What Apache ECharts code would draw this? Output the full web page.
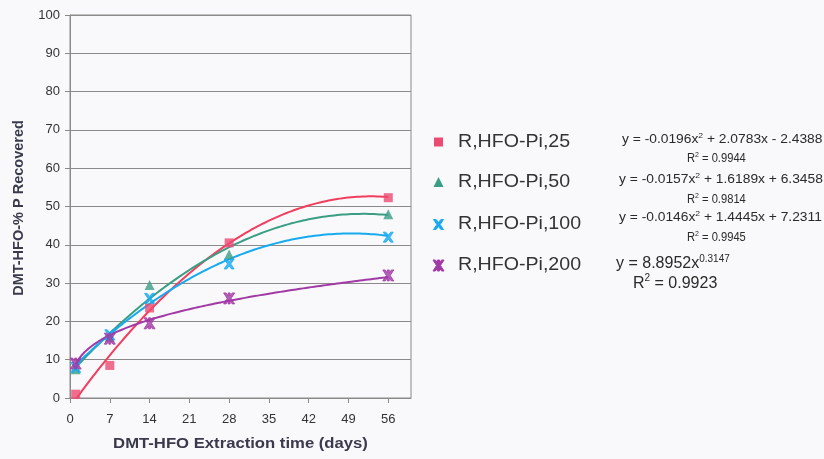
<!DOCTYPE html>
<html>
<head>
<meta charset="utf-8">
<script src="https://cdn.jsdelivr.net/npm/echarts@6/dist/echarts.min.js"></script>
<style>
  html, body { margin: 0; padding: 0; background: #f9f9fb; }
  #chart { width: 824px; height: 459px; }
</style>
</head>
<body>
<div id="chart"></div>
<script>
// Extraction days at which each treatment was sampled
const days = [1, 7, 14, 28, 56];
const xTicks = [0, 7, 14, 21, 28, 35, 42, 49, 56];

// % P recovered for each treatment
const seriesNames = ['R,HFO-Pi,25', 'R,HFO-Pi,50', 'R,HFO-Pi,100', 'R,HFO-Pi,200'];
const pi25 = [1.0, 8.5, 23.5, 40.5, 52.3];
const pi50 = [7.5, 16.0, 29.5, 37.5, 48.0];
const pi100 = [8.0, 16.5, 26.0, 35.0, 42.0];
const pi200 = [9.0, 15.5, 19.5, 26.0, 32.0];

// Trendline coefficients as printed next to the legend
const fit25 = [-0.0196, 2.0783, -2.4388];   // a x^2 + b x + c
const fit50 = [-0.0157, 1.6189, 6.3458];
const fit100 = [-0.0146, 1.4445, 7.2311];
const fit200 = [8.8952, 0.3147];            // k x^p
const r2 = ['0.9944', '0.9814', '0.9945', '0.9923'];

const markColors = ['#ec4a72', '#3a9e84', '#17aaf0', '#a23aa6'];
const lineColors = ['#f23e5e', '#3a9e84', '#17aaf0', '#a23aa6'];

// Marker outlines (polygons in a 10x10 box) shared by the scatter points and the legend
const squarePts = [[0, 0], [10, 0], [10, 10], [0, 10]];
const triPts = [[5, 0], [10, 10], [0, 10]];
const crossPts = [[0, 0], [2.6, 0], [5, 3], [7.4, 0], [10, 0], [6.6, 5], [10, 10], [7.4, 10], [5, 7], [2.6, 10], [0, 10], [3.4, 5]];
const starPts = [[0, 0], [2.2, 0], [4.1, 2.6], [4.1, 0], [5.9, 0], [5.9, 2.6], [7.8, 0], [10, 0], [6.8, 5], [10, 10], [7.8, 10], [5.9, 7.4], [5.9, 10], [4.1, 10], [4.1, 7.4], [2.2, 10], [0, 10], [3.2, 5]];
const markerPts = [squarePts, triPts, crossPts, starPts];
const symbolSizes = [9, 10, 10, 11];
const outline = [0, 0, 1, 1];

function toPath(pts) {
  return 'path://M' + pts.map(p => p[0] + ',' + p[1]).join(' L') + ' Z';
}

function quad(c) {
  return x => c[0] * x * x + c[1] * x + c[2];
}
function power(c) {
  return x => c[0] * Math.pow(x, c[1]);
}
function trend(f) {
  const pts = [];
  for (let x = days[0]; x <= days[days.length - 1] + 1e-9; x += 0.5) {
    pts.push([x, f(x)]);
  }
  return pts;
}

const values = [pi25, pi50, pi100, pi200];
const fits = [quad(fit25), quad(fit50), quad(fit100), power(fit200)];

const series = [];
values.forEach((v, i) => {
  series.push({
    name: seriesNames[i] + ' trend',
    type: 'line',
    data: trend(fits[i]),
    showSymbol: false,
    symbol: 'none',
    lineStyle: { color: lineColors[i], width: 2 },
    silent: true,
    z: 2
  });
});
values.forEach((v, i) => {
  series.push({
    name: seriesNames[i],
    type: 'scatter',
    data: days.map((d, j) => [d, v[j]]),
    symbol: toPath(markerPts[i]),
    symbolSize: symbolSizes[i],
    itemStyle: { color: markColors[i], borderColor: markColors[i], borderWidth: outline[i] },
    z: 3
  });
});

const FONT = 'Arial, "Liberation Sans", sans-serif';
const TEXT = '#2a2a2a';

function label(x, y, text, opts) {
  opts = opts || {};
  return {
    type: 'text',
    x: x,
    y: y,
    scaleX: opts.scaleX || 1,
    rotation: opts.rotation || 0,
    z: 10,
    style: {
      text: text,
      fontFamily: FONT,
      fontSize: opts.size || 12,
      fontWeight: opts.bold ? 'bold' : 'normal',
      fill: opts.color || TEXT,
      align: opts.align || 'left',
      verticalAlign: 'middle',
      rich: opts.rich
    }
  };
}
function richSet(size, supSize) {
  return {
    t: { fontFamily: FONT, fontSize: size, fill: TEXT, lineHeight: size + 4 },
    s: { fontFamily: FONT, fontSize: supSize, fill: TEXT, verticalAlign: 'top', lineHeight: size + 4 }
  };
}
function fmt(n) {
  return Math.abs(n).toFixed(4);
}
function quadText(c) {
  return '{t|y = ' + (c[0] < 0 ? '-' : '') + fmt(c[0]) + 'x}{s|2}{t| + ' + fmt(c[1]) + 'x ' +
    (c[2] < 0 ? '- ' : '+ ') + fmt(c[2]) + '}';
}

// Legend: marker plus stretched label per treatment
const legendY = [142, 182, 224.5, 265.5];
const legendGraphics = [];
seriesNames.forEach((n, i) => {
  const s = symbolSizes[i];
  const x0 = 438.5 - s / 2;
  const y0 = legendY[i] - s / 2;
  legendGraphics.push({
    type: 'polygon',
    shape: { points: markerPts[i].map(p => [x0 + p[0] * s / 10, y0 + p[1] * s / 10]) },
    style: { fill: markColors[i], stroke: outline[i] ? markColors[i] : null, lineWidth: outline[i] },
    z: 10
  });
  legendGraphics.push(label(458, legendY[i], n, { size: 17.5, scaleX: 1.12, color: '#333' }));
});

const eq = richSet(12, 7.5);
const r2s = richSet(12, 7.5);
const big = richSet(16, 10);

const chart = echarts.init(document.getElementById('chart'), null, { renderer: 'canvas' });
chart.setOption({
  backgroundColor: '#f9f9fb',
  animation: false,
  grid: { left: 70, top: 15, right: 413, bottom: 61, show: true, borderColor: '#8a8a8a', borderWidth: 1, backgroundColor: 'transparent' },
  xAxis: {
    type: 'value',
    min: 0,
    max: 60,
    axisLine: { lineStyle: { color: '#8a8a8a' } },
    axisTick: { show: true, length: 5, customValues: xTicks, lineStyle: { color: '#8a8a8a' } },
    axisLabel: { customValues: xTicks, fontFamily: FONT, fontSize: 13, color: '#333', margin: 15 },
    splitLine: { show: false }
  },
  yAxis: {
    type: 'value',
    min: 0,
    max: 100,
    interval: 10,
    axisLine: { show: true, lineStyle: { color: '#8a8a8a' } },
    axisTick: { show: true, length: 5, lineStyle: { color: '#8a8a8a' } },
    axisLabel: { fontFamily: FONT, fontSize: 13, color: '#333', margin: 10 },
    splitLine: { show: true, lineStyle: { color: '#8a8a8a', width: 1 } }
  },
  graphic: [
    // axis titles
    label(240.5, 444, 'DMT-HFO Extraction time (days)', { size: 14.5, bold: true, scaleX: 1.15, align: 'center', color: '#3a3a4c' }),
    label(19, 208, 'DMT-HFO-% P Recovered', { size: 14.5, bold: true, rotation: Math.PI / 2, align: 'center', color: '#3a3a4c' }),
    // trendline equations
    label(622, 139.5, quadText(fit25), { rich: eq, scaleX: 1.15 }),
    label(687, 159, '{t|R}{s|2}{t| = ' + r2[0] + '}', { rich: r2s, scaleX: 0.93 }),
    label(619, 180, quadText(fit50), { rich: eq, scaleX: 1.15 }),
    label(687, 199.5, '{t|R}{s|2}{t| = ' + r2[1] + '}', { rich: r2s, scaleX: 0.93 }),
    label(619, 218, quadText(fit100), { rich: eq, scaleX: 1.15 }),
    label(687, 237.5, '{t|R}{s|2}{t| = ' + r2[2] + '}', { rich: r2s, scaleX: 0.93 }),
    label(616, 264, '{t|y = ' + fit200[0].toFixed(4) + 'x}{s|' + fit200[1].toFixed(4) + '}', { rich: big }),
    label(633, 283.5, '{t|R}{s|2}{t| = ' + r2[3] + '}', { rich: big })
  ].concat(legendGraphics),
  series: series
});
</script>
</body>
</html>
